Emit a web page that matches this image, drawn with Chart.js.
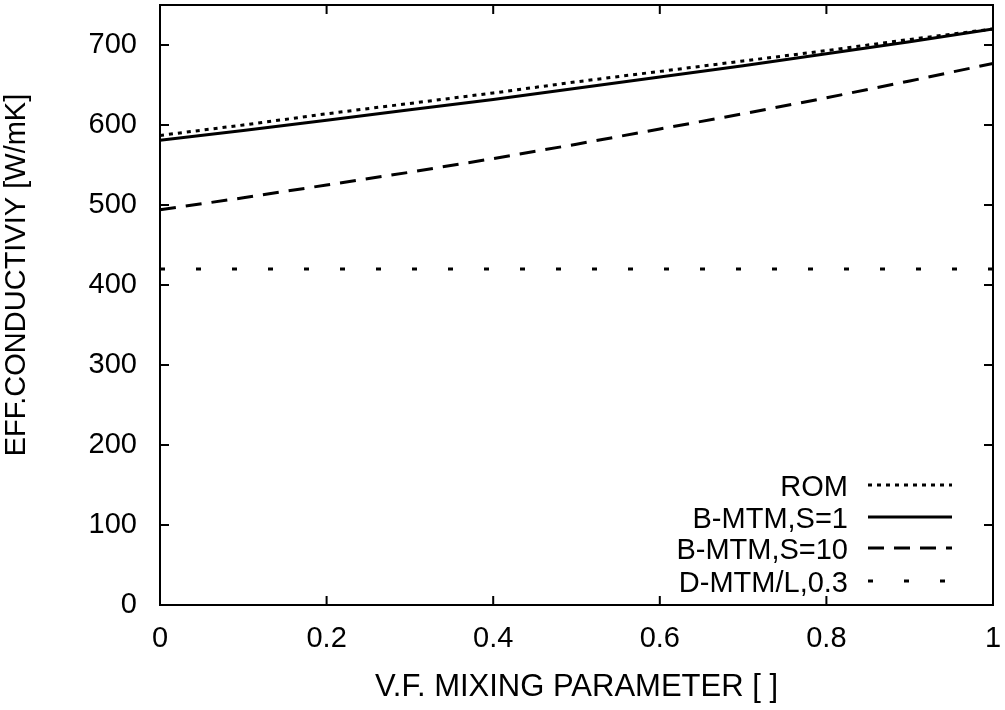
<!DOCTYPE html>
<html>
<head>
<meta charset="utf-8">
<script src="https://cdn.jsdelivr.net/npm/chart.js@4"></script>
<style>
  html, body { margin: 0; padding: 0; background: #fff; }
</style>
</head>
<body>
<canvas id="chart" width="1005" height="710"></canvas>
<script>
const mixParam   = [0, 0.1, 0.2, 0.3, 0.4, 0.5, 0.6, 0.7, 0.8, 0.9, 1];
const romValues  = [587, 600, 614, 627, 640, 654, 667, 680, 693, 707, 720];
const bmtm1      = [581, 593, 606, 619, 632, 646, 660, 674, 689, 704, 720];
const bmtm10     = [494, 509, 525, 541, 558, 576, 595, 614, 634, 655, 677];
const dmtm03     = [420, 420, 420, 420, 420, 420, 420, 420, 420, 420, 420];

const seriesNames = ['ROM', 'B-MTM,S=1', 'B-MTM,S=10', 'D-MTM/L,0.3'];
const xTickVals = [0, 0.2, 0.4, 0.6, 0.8, 1];
const yTickVals = [0, 100, 200, 300, 400, 500, 600, 700];

const FONT = 'Liberation Sans, Arial, Helvetica, sans-serif';
const toPoints = ys => ys.map((y, i) => ({ x: mixParam[i], y }));

// gnuplot-like frame with inward ticks
const framePlugin = {
    id: 'frame',
    afterDraw(chart) {
        const { ctx, chartArea: a, scales } = chart;
        ctx.save();
        ctx.strokeStyle = '#000';
        ctx.lineWidth = 2;
        ctx.setLineDash([]);
        ctx.strokeRect(a.left, a.top, a.right - a.left, a.bottom - a.top);
        ctx.beginPath();
        yTickVals.forEach(v => {
            const p = scales.y.getPixelForValue(v);
            ctx.moveTo(a.left, p);  ctx.lineTo(a.left + 9, p);
            ctx.moveTo(a.right, p); ctx.lineTo(a.right - 9, p);
        });
        xTickVals.forEach(v => {
            const p = scales.x.getPixelForValue(v);
            ctx.moveTo(p, a.bottom); ctx.lineTo(p, a.bottom - 9);
            ctx.moveTo(p, a.top);    ctx.lineTo(p, a.top + 9);
        });
        ctx.stroke();

        // y axis title
        ctx.fillStyle = '#000';
        ctx.font = '29px ' + FONT;
        ctx.textAlign = 'center';
        ctx.textBaseline = 'middle';
        ctx.translate(17, 275);
        ctx.rotate(-Math.PI / 2);
        ctx.fillText('EFF.CONDUCTIVIY [W/mK]', 0, 0);
        ctx.restore();
    }
};

// legend inside, text right-aligned with sample to the right
const keyPlugin = {
    id: 'key',
    afterDraw(chart) {
        const { ctx } = chart;
        const rows = [485, 517, 548, 581];
        ctx.save();
        ctx.font = '29px ' + FONT;
        ctx.fillStyle = '#000';
        ctx.textAlign = 'right';
        ctx.textBaseline = 'alphabetic';
        chart.data.datasets.forEach((ds, i) => {
            const y = rows[i];
            ctx.fillText(ds.label, 848, y + 10.5);
            ctx.strokeStyle = ds.borderColor;
            ctx.lineWidth = ds.borderWidth;
            ctx.setLineDash(ds.borderDash || []);
            ctx.beginPath();
            ctx.moveTo(868, y);
            ctx.lineTo(952, y);
            ctx.stroke();
        });
        ctx.restore();
    }
};

const lineStyle = (label, ys, dash) => ({
    label,
    data: toPoints(ys),
    borderColor: '#000',
    borderWidth: 3,
    borderDash: dash,
    pointRadius: 0,
    tension: 0,
    fill: false
});

const noPad = s => {
    s.paddingTop = 0; s.paddingBottom = 0;
    s.paddingLeft = 0; s.paddingRight = 0;
};

new Chart(document.getElementById('chart').getContext('2d'), {
    type: 'line',
    data: {
        datasets: [
            lineStyle(seriesNames[0], romValues, [4, 5]),
            lineStyle(seriesNames[1], bmtm1, []),
            lineStyle(seriesNames[2], bmtm10, [16, 10]),
            lineStyle(seriesNames[3], dmtm03, [5, 31])
        ]
    },
    options: {
        responsive: false,
        animation: false,
        layout: { padding: { top: 5, right: 12, left: 0, bottom: 0 } },
        plugins: { legend: { display: false }, tooltip: { enabled: false } },
        scales: {
            x: {
                type: 'linear',
                min: 0,
                max: 1,
                grid: { display: false, drawTicks: false },
                border: { display: false },
                ticks: {
                    stepSize: 0.2,
                    padding: 17,
                    color: '#000',
                    font: { family: FONT, size: 29 },
                    maxRotation: 0,
                    callback: v => String(Number(v.toFixed(1)))
                },
                title: {
                    display: true,
                    text: 'V.F. MIXING PARAMETER [ ]',
                    color: '#000',
                    font: { family: FONT, size: 31 },
                    padding: { top: 0, bottom: 4 }
                },
                afterFit: s => { s.height = 105; noPad(s); }
            },
            y: {
                min: 0,
                max: 750,
                grid: { display: false, drawTicks: false },
                border: { display: false },
                ticks: {
                    stepSize: 100,
                    includeBounds: false,
                    padding: 23,
                    color: '#000',
                    font: { family: FONT, size: 29 }
                },
                afterFit: s => { s.width = 160; noPad(s); }
            }
        }
    },
    plugins: [framePlugin, keyPlugin]
});
</script>
</body>
</html>
